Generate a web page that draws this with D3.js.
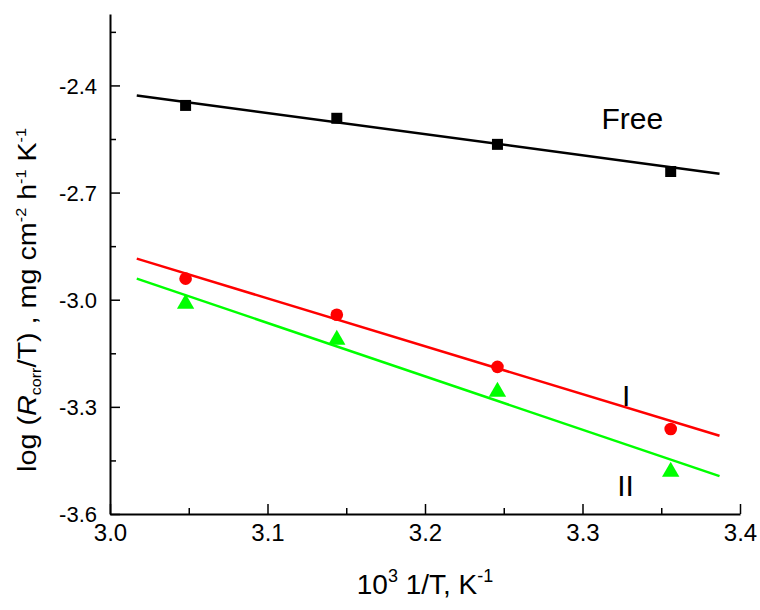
<!DOCTYPE html>
<html>
<head>
<meta charset="utf-8">
<script src="https://d3js.org/d3.v7.min.js"></script>
<style>
  body { margin: 0; background: #fff; }
  text { font-family: "Liberation Sans", Arial, sans-serif; }
</style>
</head>
<body>
<div id="chart"></div>
<script>
// data
var invT = [3.048, 3.144, 3.246, 3.356];
var freeVals = [-2.456, -2.492, -2.565, -2.641];
var iVals = [-2.941, -3.042, -3.188, -3.362];
var iiVals = [-3.011, -3.112, -3.258, -3.482];

// fitted lines (end points as drawn)
var fitX = [3.017, 3.387];
var fitFree = [-2.428, -2.647];
var fitI = [-2.885, -3.381];
var fitII = [-2.941, -3.494];

var xMajor = [3.0, 3.1, 3.2, 3.3, 3.4];
var xMinor = [3.05, 3.15, 3.25, 3.35];
var yMajor = [-3.6, -3.3, -3.0, -2.7, -2.4];
var yMinor = [-3.45, -3.15, -2.85, -2.55, -2.25];

var W = 760, H = 610;
var margin = {top: 14, right: 20, bottom: 96, left: 110};
var width = 740 - margin.left, height = 514 - margin.top;

var svg = d3.select("#chart").append("svg")
  .attr("width", W).attr("height", H);
var g = svg.append("g")
  .attr("transform", "translate(" + margin.left + "," + margin.top + ")");

var x = d3.scaleLinear().domain([3.0, 3.4]).range([0, width]);
var y = d3.scaleLinear().domain([-3.6, -2.2]).range([height, 0]);

var fmt = function(d) { return d.toFixed(1); };  // plain hyphen, not unicode minus

// axes, ticks pointing inward
var xAxis = g.append("g").attr("transform", "translate(0," + height + ")")
  .call(d3.axisBottom(x).tickValues(xMajor).tickFormat(fmt)
    .tickSize(-10).tickSizeOuter(0).tickPadding(8));
g.append("g").attr("transform", "translate(0," + height + ")")
  .call(d3.axisBottom(x).tickValues(xMinor).tickFormat("").tickSize(-6).tickSizeOuter(0))
  .select(".domain").remove();

var yAxis = g.append("g")
  .call(d3.axisLeft(y).tickValues(yMajor).tickFormat(fmt)
    .tickSize(-10).tickSizeOuter(0).tickPadding(13));
g.append("g")
  .call(d3.axisLeft(y).tickValues(yMinor).tickFormat("").tickSize(-6).tickSizeOuter(0))
  .select(".domain").remove();

g.selectAll(".domain").attr("stroke", "#000").attr("stroke-width", 2);
g.selectAll(".tick line").attr("stroke", "#000").attr("stroke-width", 1.5);
g.selectAll(".tick text").attr("fill", "#000")
  .style("font-family", "'Liberation Sans', Arial, sans-serif");
yAxis.selectAll(".tick text").attr("font-size", 22).attr("dy", "0.36em");
xAxis.selectAll(".tick text").attr("font-size", 24).attr("dy", "0.8em");

// fitted lines
var series = [
  {vals: freeVals, fit: fitFree, color: "#000000", shape: "square"},
  {vals: iVals, fit: fitI, color: "#ff0000", shape: "circle"},
  {vals: iiVals, fit: fitII, color: "#00ff00", shape: "triangle"}
];

var line = d3.line().x(function(d) { return x(d[0]); }).y(function(d) { return y(d[1]); });

series.forEach(function(s) {
  g.append("path")
    .datum(d3.zip(fitX, s.fit))
    .attr("d", line)
    .attr("fill", "none")
    .attr("stroke", s.color)
    .attr("stroke-width", 2.5);
});

// markers
series.forEach(function(s) {
  var sym = s.shape == "square" ? d3.symbolSquare : (s.shape == "circle" ? d3.symbolCircle : d3.symbolTriangle);
  var size = s.shape == "square" ? 121 : (s.shape == "circle" ? 125 : 130);
  g.append("g").selectAll("path")
    .data(d3.zip(invT, s.vals))
    .enter().append("path")
      .attr("transform", function(d) { return "translate(" + x(d[0]) + "," + y(d[1]) + ")"; })
      .attr("d", d3.symbol().type(sym).size(size))
      .attr("fill", s.color);
});

// curve labels
var labels = [
  {text: "Free", x: 3.312, y: -2.523},
  {text: "I", x: 3.325, y: -3.298},
  {text: "II", x: 3.322, y: -3.55}
];
g.selectAll(".lbl").data(labels).enter().append("text")
  .attr("class", "lbl")
  .attr("x", function(d) { return x(d.x); })
  .attr("y", function(d) { return y(d.y); })
  .attr("font-size", 30)
  .attr("fill", "#000")
  .text(function(d) { return d.text; });

// axis titles
var xt = svg.append("text")
  .attr("x", margin.left + width / 2)
  .attr("y", 594)
  .attr("text-anchor", "middle")
  .attr("font-size", 28);
xt.append("tspan").text("10");
xt.append("tspan").attr("font-size", 18).attr("dy", -12).text("3");
xt.append("tspan").attr("dy", 12).text(" 1/T, K");
xt.append("tspan").attr("font-size", 18).attr("dy", -12).text("-1");

var yt = svg.append("text")
  .attr("transform", "translate(36,300) rotate(-90) scale(1.15,1)")
  .attr("text-anchor", "middle")
  .attr("font-size", 25);
yt.append("tspan").text("log (");
yt.append("tspan").attr("font-style", "italic").text("R");
yt.append("tspan").attr("font-size", 14).attr("dy", 5).text("corr");
yt.append("tspan").attr("dy", -5).text("/T) , mg cm");
yt.append("tspan").attr("font-size", 14).attr("dy", -10).text("-2");
yt.append("tspan").attr("dy", 10).text(" h");
yt.append("tspan").attr("font-size", 14).attr("dy", -10).text("-1");
yt.append("tspan").attr("dy", 10).text(" K");
yt.append("tspan").attr("font-size", 14).attr("dy", -10).text("-1");
</script>
</body>
</html>
